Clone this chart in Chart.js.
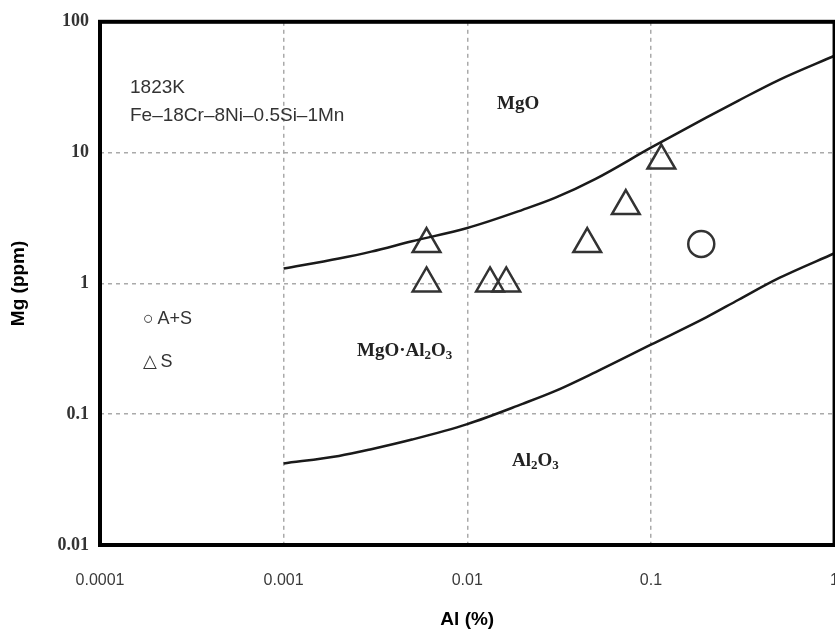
<!DOCTYPE html>
<html><head><meta charset="utf-8">
<script src="https://cdn.jsdelivr.net/npm/chart.js@4"></script>
<style>
html,body{margin:0;padding:0;overflow:hidden;background:#fff;width:835px;height:631px}
#wrap{position:absolute;left:0;top:0;width:865px;height:631px}
</style>
</head><body><div id="wrap"><canvas id="c" width="865" height="631"></canvas></div>
<script>
const xTicks = [0.0001, 0.001, 0.01, 0.1, 1];
const xTickLabels = ['0.0001', '0.001', '0.01', '0.1', '1'];
const yTicks = [0.01, 0.1, 1, 10, 100];
const yTickLabels = ['0.01', '0.1', '1', '10', '100'];

// MgO / MgO·Al2O3 boundary
const upperAl = [0.001, 0.002, 0.003, 0.005, 0.01, 0.02, 0.03, 0.05, 0.1, 0.2, 0.3, 0.5, 1];
const upperMg = [1.3, 1.55, 1.75, 2.1, 2.65, 3.65, 4.5, 6.3, 10.9, 18.5, 25, 36, 55];
// MgO·Al2O3 / Al2O3 boundary
const lowerAl = [0.001, 0.002, 0.003, 0.005, 0.01, 0.02, 0.03, 0.05, 0.1, 0.2, 0.3, 0.5, 1];
const lowerMg = [0.042, 0.048, 0.054, 0.064, 0.084, 0.12, 0.15, 0.21, 0.34, 0.55, 0.75, 1.1, 1.7];

// S (triangles)
const sAl = [0.006, 0.006, 0.0133, 0.0163, 0.045, 0.073, 0.114];
const sMg = [2, 1, 1, 1, 2, 3.9, 8.7];
// A+S (circle)
const asAl = [0.188];
const asMg = [2];

const pts = (xs, ys) => xs.map((v, i) => ({x: v, y: ys[i]}));

const deco = {
  id: 'deco',
  afterDatasetsDraw(chart) {
    const {ctx, chartArea: a} = chart;
    ctx.save();
    ctx.strokeStyle = '#000';
    ctx.lineWidth = 4;
    ctx.strokeRect(a.left, a.top, a.right - a.left, a.bottom - a.top);
    ctx.restore();
  },
  afterDraw(chart) {
    const ctx = chart.ctx;
    ctx.save();
    ctx.fillStyle = '#333';
    ctx.textBaseline = 'middle';
    ctx.textAlign = 'left';
    ctx.font = '19px "Liberation Sans", "DejaVu Sans", sans-serif';
    ctx.fillText('1823K', 130, 88);
    ctx.fillText('Fe\u201318Cr\u20138Ni\u20130.5Si\u20131Mn', 130, 116);
    ctx.font = '18px "Liberation Sans", "DejaVu Sans", sans-serif';
    ctx.fillText('\u25CB\u2009A+S', 143, 319);
    ctx.fillText('\u25B3\u2009S', 143, 362);

    const serif = (s) => 'bold ' + s + 'px "Liberation Serif", "DejaVu Serif", serif';
    const drawParts = (parts, x, y) => {
      let cx = x;
      for (const p of parts) {
        ctx.font = serif(p.sub ? 13 : 19);
        ctx.fillText(p.t, cx, p.sub ? y + 5 : y);
        cx += ctx.measureText(p.t).width;
      }
    };
    ctx.fillStyle = '#222';
    drawParts([{t: 'MgO'}], 497, 104);
    drawParts([{t: 'MgO\u00B7Al'}, {t: '2', sub: true}, {t: 'O'}, {t: '3', sub: true}], 357, 351);
    drawParts([{t: 'Al'}, {t: '2', sub: true}, {t: 'O'}, {t: '3', sub: true}], 512, 461);
    ctx.restore();
  }
};

const gridColor = (c) => (c.index === 0 || c.index === 4) ? 'rgba(0,0,0,0)' : '#aaa';

new Chart(document.getElementById('c'), {
  type: 'scatter',
  data: {
    datasets: [
      {data: pts(upperAl, upperMg), showLine: true, borderColor: '#1a1a1a', borderWidth: 2.5,
       pointRadius: 0, cubicInterpolationMode: 'monotone', fill: false},
      {data: pts(lowerAl, lowerMg), showLine: true, borderColor: '#1a1a1a', borderWidth: 2.5,
       pointRadius: 0, cubicInterpolationMode: 'monotone', fill: false},
      {data: pts(sAl, sMg), pointStyle: 'triangle', pointRadius: 16, pointBorderWidth: 2.5,
       pointBorderColor: '#333', pointBackgroundColor: 'rgba(0,0,0,0)', showLine: false},
      {data: pts(asAl, asMg), pointStyle: 'circle', pointRadius: 13, pointBorderWidth: 2.5,
       pointBorderColor: '#333', pointBackgroundColor: 'rgba(0,0,0,0)', showLine: false}
    ]
  },
  options: {
    responsive: false,
    animation: false,
    devicePixelRatio: 1,
    layout: {padding: {left: 0, right: 22, top: 20, bottom: 0}},
    plugins: {legend: {display: false}, tooltip: {enabled: false}},
    scales: {
      x: {
        type: 'logarithmic', min: 0.0001, max: 1,
        afterBuildTicks: s => { s.ticks = xTicks.map(v => ({value: v})); },
        afterFit: s => { s.height = 86; },
        ticks: {
          autoSkip: false, maxRotation: 0, padding: 26,
          color: '#3a3a3a', font: {family: '"Liberation Sans", sans-serif', size: 16},
          callback: v => xTickLabels[xTicks.indexOf(v)]
        },
        grid: {color: gridColor, lineWidth: 1.5, drawTicks: false},
        border: {display: false, dash: [4, 4]},
        title: {display: true, text: 'Al (%)', color: '#000',
                font: {family: '"Liberation Sans", Arial, sans-serif', size: 19, weight: 'bold'},
                padding: {top: 0, bottom: 0}}
      },
      y: {
        type: 'logarithmic', min: 0.01, max: 100,
        afterBuildTicks: s => { s.ticks = yTicks.map(v => ({value: v})); },
        afterFit: s => { s.width = 100; },
        ticks: {
          autoSkip: false, padding: 11,
          color: '#333', font: {family: '"Liberation Serif", serif', size: 18, weight: 'bold'},
          callback: v => yTickLabels[yTicks.indexOf(v)]
        },
        grid: {color: gridColor, lineWidth: 1.5, drawTicks: false},
        border: {display: false, dash: [4, 4]},
        title: {display: true, text: 'Mg (ppm)', color: '#000',
                font: {family: '"Liberation Sans", Arial, sans-serif', size: 19, weight: 'bold'},
                padding: {top: 7, bottom: 0}}
      }
    }
  },
  plugins: [deco]
});
</script>
</body></html>
